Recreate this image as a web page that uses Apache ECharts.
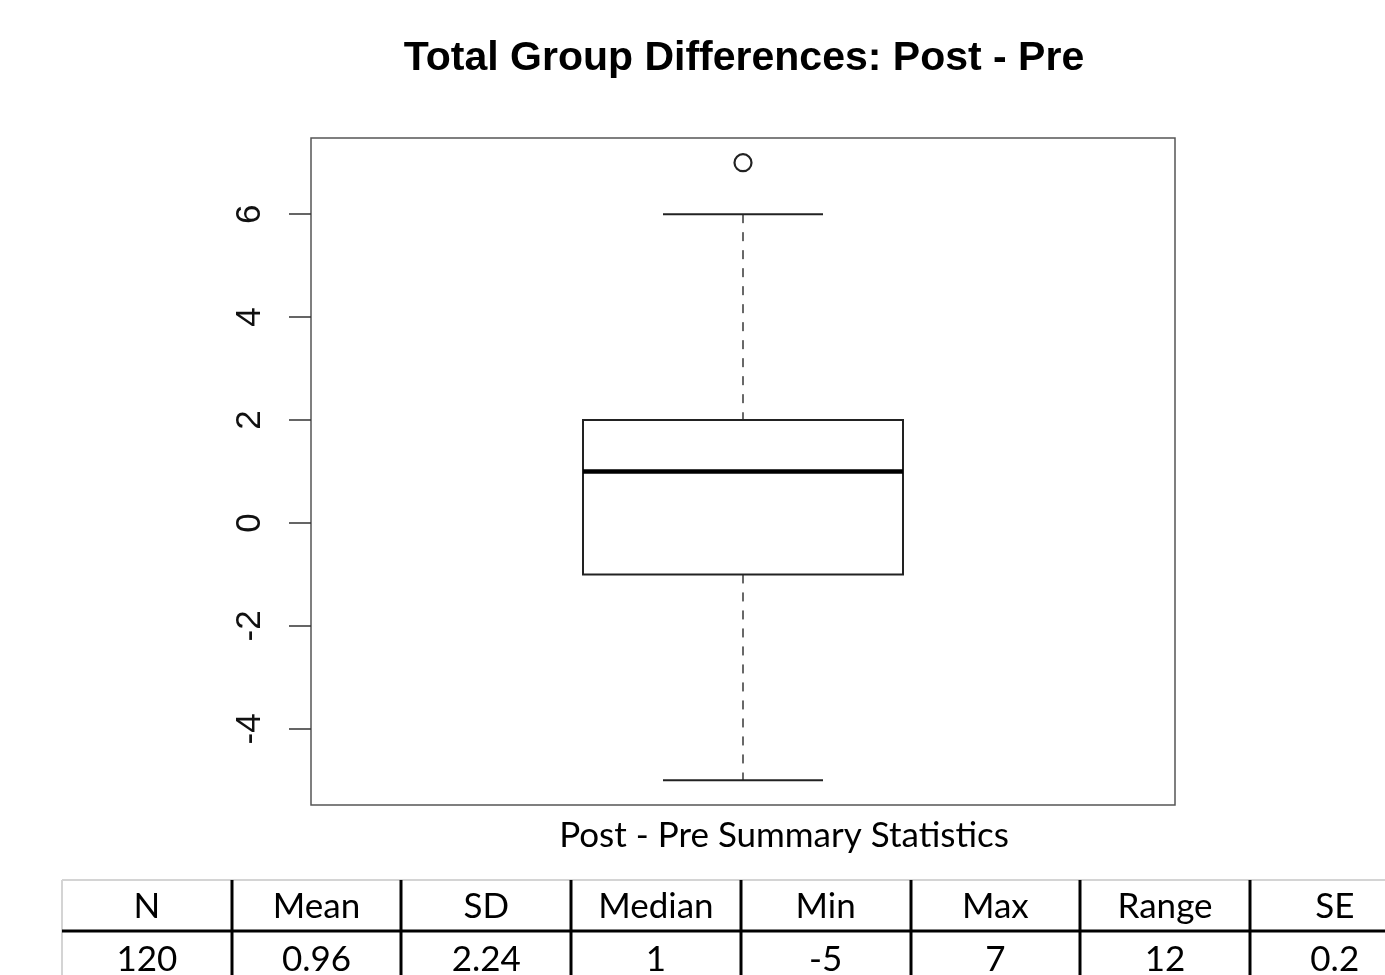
<!DOCTYPE html>
<html>
<head>
<meta charset="utf-8">
<script src="https://cdn.jsdelivr.net/npm/echarts@6/dist/echarts.min.js"></script>
<style>
html,body{margin:0;padding:0;background:#fff;}
#chart{width:1385px;height:975px;}
</style>
</head>
<body>
<div id="chart"></div>
<script>
// ---- data ----
const titleText = 'Total Group Differences: Post - Pre';
const categories = ['Post - Pre'];
const boxStats = [[-5, -1, 1, 2, 6]]; // [min whisker, Q1, median, Q3, max whisker]
const outliers = [[1, 7]];
const yTicks = [-4, -2, 0, 2, 4, 6];
const tableCaption = 'Post - Pre Summary Statistics';
const tableHeaders = ['N', 'Mean', 'SD', 'Median', 'Min', 'Max', 'Range', 'SE'];
const tableValues = ['120', '0.96', '2.24', '1', '-5', '7', '12', '0.2'];

// ---- layout constants ----
const tblLeft = 62, colW = 169.7, tblTop = 880, hdrLine = 931;
const tableFont = 'Lato, "Open Sans", sans-serif';
const tableFontSize = 35;

const chart = echarts.init(document.getElementById('chart'), null, {renderer: 'canvas'});

const boxData = boxStats.map((s, i) => [i + 1].concat(s));

const graphics = [];
graphics.push({type: 'text', style: {text: tableCaption, x: 784, y: 836, align: 'center', verticalAlign: 'middle', fontSize: tableFontSize, fontFamily: tableFont, fill: '#000'}});
graphics.push({type: 'line', shape: {x1: tblLeft, y1: tblTop, x2: 1385, y2: tblTop}, style: {stroke: '#d4d4d4', lineWidth: 2}});
graphics.push({type: 'line', shape: {x1: tblLeft, y1: tblTop, x2: tblLeft, y2: 975}, style: {stroke: '#d4d4d4', lineWidth: 2}});
graphics.push({type: 'line', shape: {x1: tblLeft, y1: hdrLine, x2: 1385, y2: hdrLine}, style: {stroke: '#000', lineWidth: 3}});
for (let i = 1; i < tableHeaders.length; i++) {
  const x = Math.round(tblLeft + colW * i);
  graphics.push({type: 'line', shape: {x1: x, y1: tblTop, x2: x, y2: 975}, style: {stroke: '#000', lineWidth: 3}});
}
tableHeaders.forEach((h, i) => {
  const cx = tblLeft + colW * (i + 0.5);
  graphics.push({type: 'text', style: {text: h, x: cx, y: 907, align: 'center', verticalAlign: 'middle', fontSize: tableFontSize, fontFamily: tableFont, fill: '#000'}});
  graphics.push({type: 'text', style: {text: tableValues[i], x: cx, y: 960, align: 'center', verticalAlign: 'middle', fontSize: tableFontSize, fontFamily: tableFont, fill: '#000'}});
});

const option = {
  animation: false,
  backgroundColor: '#fff',
  title: {
    text: titleText,
    left: 739, top: 33,
    textAlign: 'center',
    textStyle: {fontFamily: '"Liberation Sans", Arial, sans-serif', fontWeight: 'bold', fontSize: 41, color: '#000'}
  },
  grid: {
    left: 311, top: 138, width: 864, height: 667,
    show: true, borderColor: '#555', borderWidth: 1.5, backgroundColor: 'transparent'
  },
  xAxis: {
    type: 'value', min: 0.46, max: 1.54, show: false
  },
  yAxis: {
    type: 'value', min: -5.48, max: 7.48,
    axisLine: {show: false},
    splitLine: {show: false},
    axisTick: {show: true, inside: false, length: 22, customValues: yTicks, lineStyle: {color: '#333', width: 1.5}},
    axisLabel: {show: true, customValues: yTicks, rotate: 90, margin: 43, fontSize: 35, color: '#111', fontFamily: '"Liberation Sans", Arial, sans-serif'}
  },
  graphic: graphics,
  series: [
    {
      type: 'custom',
      name: categories[0],
      data: boxData,
      encode: {x: 0, y: [1, 2, 3, 4, 5]},
      renderItem: function (params, api) {
        const x = api.value(0);
        const vMin = api.value(1), q1 = api.value(2), med = api.value(3), q3 = api.value(4), vMax = api.value(5);
        const bw = 0.2, cw = 0.1;
        const pTL = api.coord([x - bw, q3]);
        const pBR = api.coord([x + bw, q1]);
        const pMedL = api.coord([x - bw, med]);
        const pMedR = api.coord([x + bw, med]);
        const pMax = api.coord([x, vMax]);
        const pMin = api.coord([x, vMin]);
        const pQ3 = api.coord([x, q3]);
        const pQ1 = api.coord([x, q1]);
        const capL = api.coord([x - cw, vMax])[0];
        const capR = api.coord([x + cw, vMax])[0];
        const dash = {stroke: '#444', lineWidth: 1.6, lineDash: [9, 9]};
        return {
          type: 'group',
          children: [
            {type: 'line', shape: {x1: pMax[0], y1: pMax[1], x2: pQ3[0], y2: pQ3[1]}, style: dash},
            {type: 'line', shape: {x1: pQ1[0], y1: pQ1[1], x2: pMin[0], y2: pMin[1]}, style: dash},
            {type: 'line', shape: {x1: capL, y1: pMax[1], x2: capR, y2: pMax[1]}, style: {stroke: '#222', lineWidth: 2}},
            {type: 'line', shape: {x1: capL, y1: pMin[1], x2: capR, y2: pMin[1]}, style: {stroke: '#222', lineWidth: 2}},
            {type: 'rect', shape: {x: pTL[0], y: pTL[1], width: pBR[0] - pTL[0], height: pBR[1] - pTL[1]}, style: {fill: '#fff', stroke: '#222', lineWidth: 2}},
            {type: 'line', shape: {x1: pMedL[0], y1: pMedL[1], x2: pMedR[0], y2: pMedR[1]}, style: {stroke: '#000', lineWidth: 4.5}}
          ]
        };
      }
    },
    {
      type: 'scatter',
      coordinateSystem: 'cartesian2d',
      xAxisIndex: 0, yAxisIndex: 0,
      data: outliers,
      symbol: 'circle',
      symbolSize: 17,
      z: 5,
      itemStyle: {color: '#fff', borderColor: '#222', borderWidth: 2.2, opacity: 1}
    }
  ]
};
chart.setOption(option);
</script>
</body>
</html>
